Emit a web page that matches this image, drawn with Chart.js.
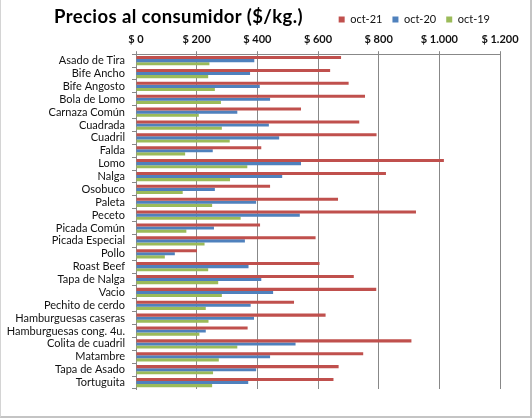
<!DOCTYPE html>
<html lang="es">
<head>
    <meta charset="UTF-8">
    <title>Precios al consumidor</title>
    <script src="https://cdn.jsdelivr.net/npm/chart.js"></script>
    <style>
        body { margin: 0; background: #fff; }
        #wrap { position: relative; width: 532px; height: 418px; }
        #titulo {
            position: absolute; left: 54px; top: 5px;
            font-family: Lato, sans-serif; font-weight: bold; font-size: 18.5px;
            letter-spacing: 0.4px; color: #000; white-space: nowrap;
        }
        #borde {
            position: absolute; left: 0; top: 0; width: 532px; height: 418px;
            box-sizing: border-box; pointer-events: none;
            border-left: 1px solid #d4d4d4; border-right: 2px solid #c4c4c4; border-bottom: 2px solid #c4c4c4;
        }
    </style>
</head>
<body>
<div id="wrap">
    <canvas id="preciosChart" width="532" height="418"></canvas>
    <div id="titulo">Precios al consumidor ($/kg.)</div>
    <div id="borde"></div>
</div>
<script>
    // Cortes y precios ($/kg)
    const cortes = ['Asado de Tira', 'Bife Ancho', 'Bife Angosto', 'Bola de Lomo', 'Carnaza Común',
        'Cuadrada', 'Cuadril', 'Falda', 'Lomo', 'Nalga', 'Osobuco', 'Paleta', 'Peceto',
        'Picada Común', 'Picada Especial', 'Pollo', 'Roast Beef', 'Tapa de Nalga', 'Vacio',
        'Pechito de cerdo', 'Hamburguesas caseras', 'Hamburguesas cong. 4u.', 'Colita de cuadril',
        'Matambre', 'Tapa de Asado', 'Tortuguita'];
    const series = ['oct-21', 'oct-20', 'oct-19'];
    const oct21 = [676, 640, 701, 755, 544, 736, 793, 413, 1015, 824, 442, 666, 923,
        409, 592, 201, 605, 718, 792, 521, 625, 368, 908, 749, 668, 651];
    const oct20 = [390, 376, 408, 442, 334, 438, 472, 253, 544, 482, 260, 396, 540,
        257, 359, 128, 371, 413, 452, 378, 389, 230, 526, 442, 396, 370];
    const oct19 = [242, 238, 260, 280, 207, 283, 309, 162, 367, 310, 154, 251, 345,
        166, 226, 95, 238, 271, 283, 230, 239, 209, 334, 273, 254, 251];
    const colores = ['#C0504D', '#4F81BD', '#9BBB59'];

    function formatoPesos(v) {
        return '$ ' + String(v).replace(/\B(?=(\d{3})+(?!\d))/g, '.');
    }

    const fuente = { family: 'Lato, sans-serif', size: 11 };

    new Chart(document.getElementById('preciosChart'), {
        type: 'bar',
        data: {
            labels: cortes,
            datasets: [oct21, oct20, oct19].map((d, i) => ({
                label: series[i],
                data: d,
                backgroundColor: colores[i],
                barPercentage: 1.0,
                categoryPercentage: 0.72
            }))
        },
        options: {
            indexAxis: 'y',
            responsive: false,
            animation: false,
            layout: { padding: { left: 4, right: 32, top: 4, bottom: 29 } },
            plugins: {
                tooltip: { enabled: false },
                legend: {
                    position: 'top',
                    align: 'end',
                    labels: {
                        boxWidth: 6, boxHeight: 6, padding: 10,
                        color: '#111', font: fuente
                    }
                }
            },
            scales: {
                x: {
                    position: 'top',
                    min: 0, max: 1200,
                    ticks: { stepSize: 200, color: '#111', padding: 5,
                        font: { family: 'Lato, sans-serif', size: 11, weight: 'bold' },
                        callback: v => formatoPesos(v) },
                    grid: { color: '#888', tickLength: 3 },
                    border: { color: '#888' },
                    afterFit: s => { s.height -= 7; }
                },
                y: {
                    ticks: { color: '#111', font: fuente, padding: 7, autoSkip: false },
                    grid: { drawOnChartArea: false, color: '#888', tickLength: 4 },
                    border: { color: '#888' },
                    afterFit: s => { s.width = 132; }
                }
            }
        }
    });
</script>
</body>
</html>
